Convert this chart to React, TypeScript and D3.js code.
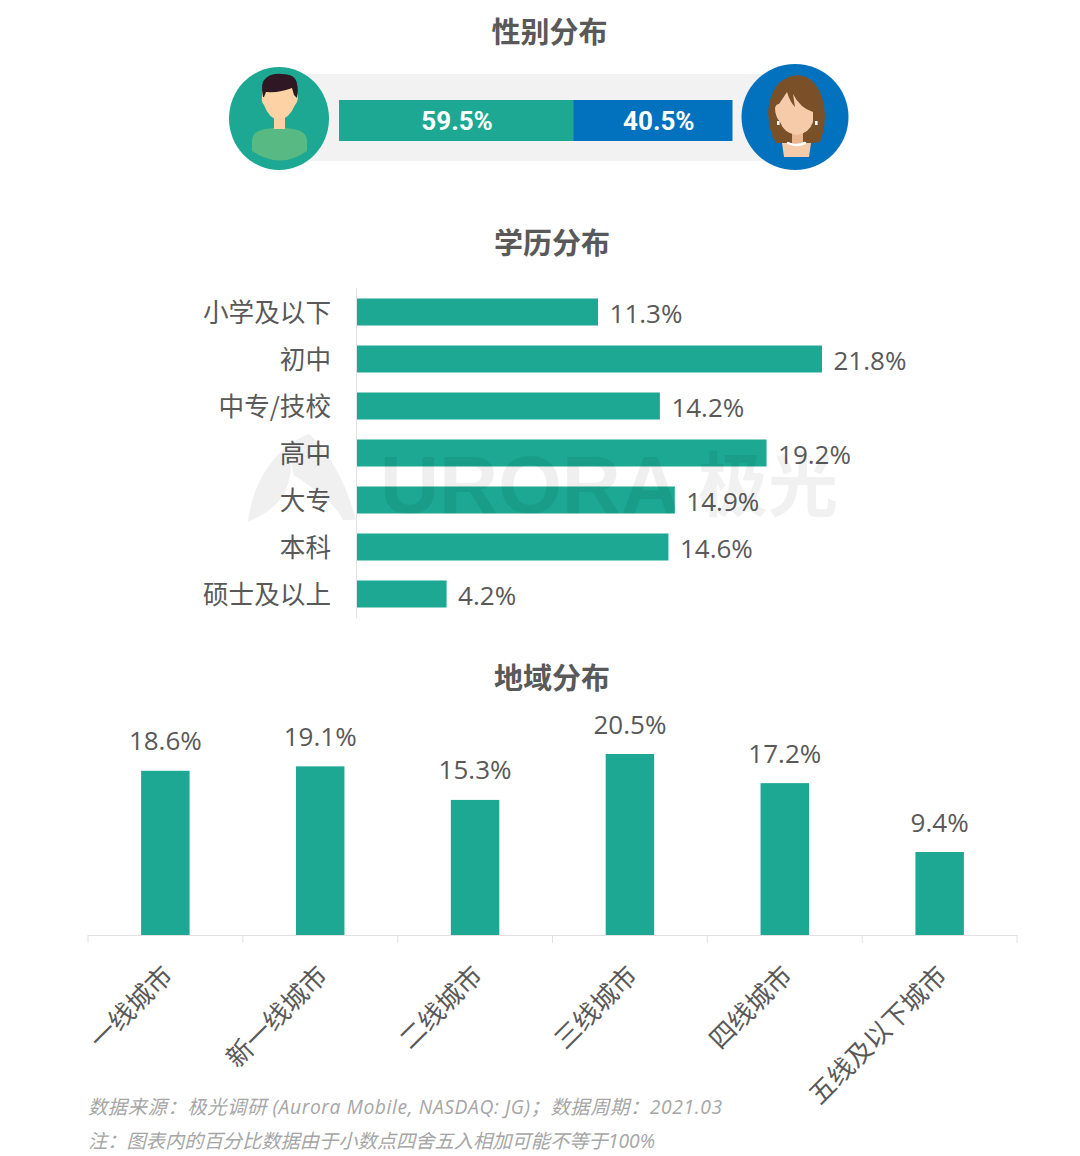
import React from 'react';
import * as d3 from 'd3';

const genderValues = [59.5, 40.5];
const genderColors = ['#1ca892', '#0272bf'];
const eduCategories = ['小学及以下', '初中', '中专/技校', '高中', '大专', '本科', '硕士及以上'];
const eduValues = [11.3, 21.8, 14.2, 19.2, 14.9, 14.6, 4.2];
const geoCategories = ['一线城市', '新一线城市', '二线城市', '三线城市', '四线城市', '五线及以下城市'];
const geoValues = [18.6, 19.1, 15.3, 20.5, 17.2, 9.4];
const notes = ['数据来源\uFF1A极光调研 (Aurora Mobile, NASDAQ: JG)\uFF1B数据周期\uFF1A2021.03', '注\uFF1A图表内的百分比数据由于小数点四舍五入相加可能不等于100%'];
const noteWidths = [634, 567];

const TEAL = '#1ca892';
const TXT = '#595959';
const FONT = '"Open Sans","Noto Sans CJK SC",sans-serif';
const CJK = '"Noto Sans CJK SC","Open Sans",sans-serif';

const genderX = d3.scaleLinear().domain([0, 100]).range([339, 732.5]);
const eduX = d3.scaleLinear().domain([0, 21.8]).range([357, 822]);
const eduY = d3.scaleBand<string>().domain(eduCategories).range([288.5, 617.5]).paddingInner(20 / 47).paddingOuter(10 / 47);
const geoX = d3.scaleBand<string>().domain(geoCategories).range([88, 1017]).paddingInner(0.687).paddingOuter(0.343);
const geoY = d3.scaleLinear().domain([0, 20.5]).range([935, 754]);

function Title({ x, y, t }: { x: number; y: number; t: string }) {
  return <text x={x} y={y} textAnchor="middle" fontFamily={CJK} fontWeight={700} fontSize={29} fill={TXT}>{t}</text>;
}

function Male() {
  return (
    <g>
      <ellipse cx={279} cy={118.5} rx={50} ry={51.5} fill={TEAL} />
      <path d="M252 151 L252 141 Q252 131 266 129 L279 127 L293 129 Q307 131 307 141 L307 151 Q280 170 252 151 Z" fill="#59b983" />
      <rect x={274} y={113} width={11} height={16} fill="#fbd0a4" />
      <path d="M262 96 Q262 90 264 86 L294 86 Q297 90 298 96 Q298 102 295 105 Q289 119 279 120 Q269 119 264 105 Q261 102 262 96 Z" fill="#fdd2a5" />
      <path d="M263 97 Q260 82 266 78 Q272 73 282 74 Q296 74 297 84 Q298.5 90 297 98 L294 95 L292 88 Q280 93 266 92 L264 97 Z" fill="#2f1823" />
    </g>
  );
}

function Female() {
  return (
    <g>
      <ellipse cx={795} cy={117} rx={53.5} ry={53} fill="#0272bf" />
      <path d="M797 75 Q818 76 824 105 Q827 125 820 142 L813 143 L776 143 Q769 133 768 112 Q771 78 797 75 Z" fill="#7a5029" />
      <path d="M782 143 L811 143 L809 157 L784 157 Z" fill="#f6cba9" />
      <rect x={792} y={130} width={11} height={14} fill="#e9b690" />
      <path d="M775 108 Q776 104 779 104 L787 92 Q790 102 795 107 L793 94 Q800 108 813 112 L813 122 Q809 134 796 135 Q784 133 780 122 Q775 116 775 108 Z" fill="#f6cba9" />
      <path d="M788 143 Q796 147 805 143" fill="none" stroke="#fff" strokeWidth={2.5} strokeLinecap="round" />
      <rect x={777} y={121} width={2.6} height={4} fill="#fff" />
      <rect x={815} y={121} width={2.6} height={4} fill="#fff" />
    </g>
  );
}

function Watermark() {
  return (
    <g pointerEvents="none">
      <path d="M248 522 C252 484 274 447 309 434 C330 452 348 488 356 520 L343 520 C336 506 322 494 297 477 L294 476 L291 462 C291 484 284 497 274 506 C266 514 256 518 248 522 Z" fill="#000" opacity={0.06} />
      <text x={380} y={513} fontFamily='"Liberation Sans",sans-serif' fontWeight={700} fontSize={82} textLength={300} lengthAdjust="spacingAndGlyphs" fill="#000" opacity={0.06}>URORA</text>
      <text x={698} y={511} fontFamily={CJK} fontWeight={700} fontSize={70} fill="#000" opacity={0.05}>极光</text>
    </g>
  );
}

export default function App() {
  let cum = 0;
  const gender = genderValues.map((v, i) => {
    const s = { v, x0: genderX(cum), x1: genderX(cum + v), c: genderColors[i] };
    cum += v;
    return s;
  });
  return (
    <svg width={1080} height={1156} style={{ position: 'absolute', left: 0, top: 0, background: '#fff' }}>
      <Title x={549.5} y={42.5} t="性别分布" />
      <rect x={280} y={74} width={520} height={87} fill="#f2f2f2" />
      <Male />
      <Female />
      {gender.map((s, i) => (
        <g key={s.v}>
          <rect x={s.x0} y={100} width={s.x1 - s.x0} height={41} fill={s.c} />
          <text x={(s.x0 + s.x1) / 2 + (i === 0 ? 1 : 6)} y={129.5} textAnchor="middle" fontFamily="Roboto,sans-serif" fontWeight={700} fontSize={26} fill="#fff">{s.v.toFixed(1)}%</text>
        </g>
      ))}

      <Title x={552} y={253.5} t="学历分布" />
      <line x1={356.5} x2={356.5} y1={288} y2={618} stroke="#e3e3e3" />
      {eduCategories.map((c, i) => (
        <g key={c}>
          <text x={331} y={eduY(c)! + eduY.bandwidth() / 2 + 10} textAnchor="end" fontFamily={CJK} fontSize={25.6} fill={TXT}>{c}</text>
          <rect x={eduX(0)} y={eduY(c)} width={eduX(eduValues[i]) - eduX(0)} height={eduY.bandwidth()} fill={TEAL} />
          <text x={eduX(eduValues[i]) + 11.5} y={eduY(c)! + eduY.bandwidth() / 2 + 10.5} fontFamily={FONT} fontSize={26} fill={TXT}>{eduValues[i].toFixed(1)}%</text>
        </g>
      ))}

      <Title x={552} y={688.5} t="地域分布" />
      {geoCategories.map((c, i) => {
        const x = geoX(c)!;
        const cx = x + geoX.bandwidth() / 2;
        return (
          <g key={c}>
            <rect x={x} y={geoY(geoValues[i])} width={geoX.bandwidth()} height={geoY(0) - geoY(geoValues[i])} fill={TEAL} />
            <text x={cx} y={geoY(geoValues[i]) - 20.5} textAnchor="middle" fontFamily={FONT} fontSize={26} fill={TXT}>{geoValues[i].toFixed(1)}%</text>
            <text transform={`translate(${cx + 9},${977}) rotate(-45)`} textAnchor="end" fontFamily={CJK} fontSize={26} fill={TXT}>{c}</text>
          </g>
        );
      })}
      <line x1={88} x2={1017} y1={935.5} y2={935.5} stroke="#e0e0e0" />
      {d3.range(geoCategories.length + 1).map((i) => {
        const x = 88 + (i * (1017 - 88)) / geoCategories.length;
        return <line key={i} x1={x} x2={x} y1={935} y2={943} stroke="#e0e0e0" />;
      })}

      <Watermark />

      {notes.map((n, i) => (
        <text key={n} x={88} y={1114 + i * 33.5} fontFamily={FONT} fontStyle="italic" fontSize={19.3} textLength={noteWidths[i]} fill="#a6a6a6">{n}</text>
      ))}
    </svg>
  );
}
